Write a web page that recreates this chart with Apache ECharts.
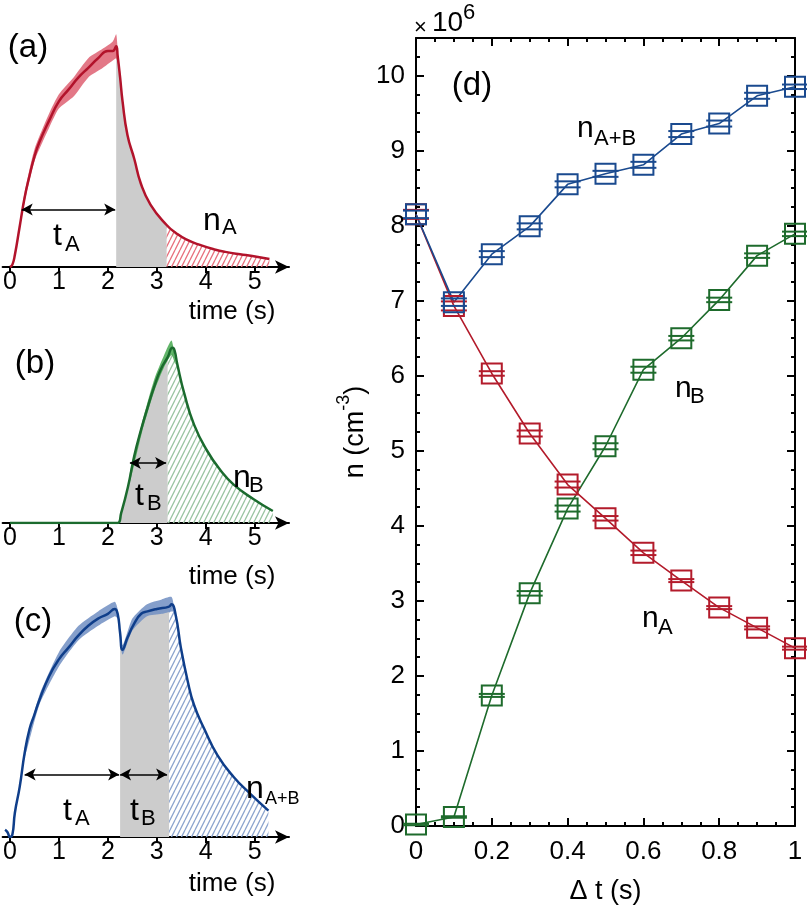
<!DOCTYPE html>
<html lang="en">
<head>
<meta charset="UTF-8">
<title>n vs delta t</title>
<script src="https://cdn.jsdelivr.net/npm/echarts@6/dist/echarts.min.js"></script>
<style>
html, body { margin: 0; padding: 0; background: #fff; }
#main { width: 807px; height: 910px; }
</style>
</head>
<body>
<div id="main"></div>
<script>
// ---- left panels: signal vs time (arb. units) ----
var timeTicks = [0, 1, 2, 3, 4, 5];

// (a) pulse A
var tA   = [0, 0.05, 0.1, 0.2, 0.3, 0.4, 0.5, 0.6, 0.8, 1.0, 1.2, 1.4, 1.6, 1.8, 2.0, 2.1, 2.17, 2.2, 2.25, 2.3, 2.4, 2.54, 2.67, 2.87, 3.2, 3.4, 3.6, 3.88, 4.2, 4.4, 4.7, 4.95, 5.3];
var sigA = [0, 0.01, 0.05, 0.17, 0.29, 0.38, 0.46, 0.52, 0.61, 0.69, 0.74, 0.79, 0.83, 0.87, 0.90, 0.90, 0.92, 0.88, 0.79, 0.69, 0.55, 0.45, 0.35, 0.26, 0.175, 0.14, 0.115, 0.092, 0.072, 0.063, 0.053, 0.046, 0.033];
var bandTA = [0.2, 0.3, 0.5, 0.8, 1.0, 1.3, 1.6, 1.9, 2.1, 2.17, 2.2, 2.25];
var bandLoA = [0.16, 0.27, 0.44, 0.58, 0.66, 0.71, 0.79, 0.83, 0.86, 0.87, 0.85, 0.79];
var bandHiA = [0.18, 0.31, 0.49, 0.64, 0.72, 0.79, 0.87, 0.91, 0.94, 0.97, 0.91, 0.79];
var edgesA = [2.17, 3.2, 5.3];        // grey from, hatch from, hatch to
var arrowsA = [[0.24, 2.15, 0.24]];   // t1, t2, level

// (b) pulse B
var tB   = [0, 2.2, 2.27, 2.41, 2.54, 2.68, 2.81, 2.95, 3.08, 3.22, 3.32, 3.36, 3.42, 3.56, 3.76, 4.03, 4.3, 4.57, 4.97, 5.37];
var sigB = [0, 0, 0.04, 0.15, 0.28, 0.39, 0.48, 0.57, 0.64, 0.69, 0.73, 0.72, 0.66, 0.54, 0.41, 0.30, 0.22, 0.16, 0.10, 0.05];
var bandTB = [2.45, 2.7, 2.95, 3.15, 3.3, 3.38];
var bandLoB = [0.17, 0.38, 0.55, 0.65, 0.70, 0.66];
var bandHiB = [0.21, 0.42, 0.60, 0.70, 0.76, 0.68];
var edgesB = [2.2, 3.22, 5.37];
var arrowsB = [[2.45, 3.19, 0.25]];

// (c) pulse A followed by pulse B
var tC   = [-0.1, -0.05, 0, 0.05, 0.1, 0.2, 0.3, 0.4, 0.5, 0.6, 0.8, 1.0, 1.2, 1.4, 1.6, 1.8, 2.0, 2.14, 2.2, 2.25, 2.3, 2.4, 2.54, 2.68, 2.81, 3.0, 3.25, 3.3, 3.39, 3.49, 3.63, 3.76, 3.97, 4.24, 4.57, 4.91, 5.28];
var sigC = [0.03, 0.02, 0, 0.01, 0.10, 0.21, 0.35, 0.45, 0.51, 0.57, 0.67, 0.74, 0.79, 0.84, 0.88, 0.91, 0.93, 0.95, 0.93, 0.85, 0.78, 0.83, 0.89, 0.93, 0.94, 0.95, 0.96, 0.97, 0.92, 0.79, 0.65, 0.55, 0.45, 0.34, 0.25, 0.18, 0.11];
var bandTC = [0.3, 0.6, 1.0, 1.4, 1.8, 2.14, 2.2, 2.3, 2.5, 2.8, 3.1, 3.3, 3.35];
var bandLoC = [0.33, 0.55, 0.71, 0.82, 0.88, 0.92, 0.91, 0.76, 0.86, 0.92, 0.93, 0.94, 0.94];
var bandHiC = [0.37, 0.59, 0.77, 0.88, 0.94, 0.98, 0.95, 0.80, 0.91, 0.97, 0.99, 1.00, 0.96];
var edgesC = [2.25, 3.25, 5.28];
var arrowsC = [[0.30, 2.23, 0.26], [2.25, 3.21, 0.26]];

// ---- right panel (d): n (x10^6 cm^-3) vs delta t ----
var dt   = [0, 0.1, 0.2, 0.3, 0.4, 0.5, 0.6, 0.7, 0.8, 0.9, 1.0];
var nAB  = [8.15, 6.98, 7.62, 7.99, 8.55, 8.69, 8.81, 9.22, 9.36, 9.73, 9.85];
var nA   = [8.15, 6.93, 6.03, 5.23, 4.55, 4.10, 3.64, 3.27, 2.91, 2.64, 2.37];
var nB   = [0.02, 0.12, 1.74, 3.10, 4.23, 5.06, 6.08, 6.50, 7.01, 7.60, 7.89];
var errAB = [0.05, 0.05, 0.04, 0.04, 0.04, 0.04, 0.04, 0.04, 0.04, 0.04, 0.03];
var errA  = [0.06, 0.06, 0.03, 0.04, 0.04, 0.03, 0.03, 0.02, 0.02, 0.02, 0.02];
var errB  = [0.01, 0.01, 0.02, 0.03, 0.04, 0.04, 0.04, 0.03, 0.03, 0.03, 0.03];

var FONT = '"Liberation Sans", Arial, sans-serif';
var RED = '#b2132b', GREEN = '#1b6b2e', BLUE = '#0f3e8a';

function pairs(t, v) {
	return t.map(function(x, i) { return [x, v[i]]; });
}
function seg(t, v, a, b) {
	return pairs(t, v).filter(function(p) { return p[0] >= a - 1e-9 && p[0] <= b + 1e-9; });
}
function hatch(color) {
	var w = 5, h = 10;
	var c = document.createElement('canvas');
	c.width = w; c.height = h;
	var ctx = c.getContext('2d');
	ctx.strokeStyle = color;
	ctx.lineWidth = 1.3;
	ctx.beginPath();
	for (var dx = -w; dx <= w; dx += w) {
		ctx.moveTo(dx, h);
		ctx.lineTo(dx + w, 0);
	}
	ctx.stroke();
	return c;
}

// series for one of the three time panels
function timePanel(idx, t, v, bt, lo, hi, edges, arrows, col, bandCol, hatchCol) {
	var ax = { xAxisIndex: idx, yAxisIndex: idx, silent: true, animation: false };
	var sm = { symbol: 'none', smooth: 0.5 };
	var band = pairs(bt, lo).map(function(p, i) { return [p[0], p[1], hi[i]]; });
	var out = [];
	out.push(Object.assign({
		type: 'line', data: seg(t, v, edges[0], edges[1]),
		lineStyle: { width: 0 }, areaStyle: { color: '#cccccc', opacity: 1 }, z: 1
	}, sm, ax));
	out.push(Object.assign({
		type: 'line', data: seg(t, v, edges[1], edges[2]),
		lineStyle: { width: 0 }, areaStyle: { color: { image: hatch(hatchCol), repeat: 'repeat' }, opacity: 1 }, z: 1
	}, sm, ax));
	out.push(Object.assign({
		type: 'custom', data: band, z: 2,
		renderItem: function(params, api) {
			if (params.dataIndex !== 0) return null;
			var pts = [];
			band.forEach(function(b) { pts.push(api.coord([b[0], b[2]])); });
			for (var i = band.length - 1; i >= 0; i--) pts.push(api.coord([band[i][0], band[i][1]]));
			return { type: 'polygon', shape: { points: pts, smooth: 0.2 }, style: { fill: bandCol, stroke: null } };
		}
	}, ax));
	out.push(Object.assign({
		type: 'line', data: pairs(t, v), z: 3,
		lineStyle: { color: col, width: 2.5 },
		markLine: {
			silent: true, symbol: ['arrow', 'arrow'], symbolSize: [9, 11],
			label: { show: false },
			lineStyle: { color: '#000', width: 1.6, type: 'solid' },
			data: arrows.map(function(a) { return [{ coord: [a[0], a[2]] }, { coord: [a[1], a[2]] }]; })
		}
	}, sm, ax));
	return out;
}

function markerSeries(data, err, col) {
	return {
		type: 'custom', xAxisIndex: 3, yAxisIndex: 3, data: pairs(dt, data), clip: false, z: 5,
		encode: { x: 0, y: 1 },
		renderItem: function(params, api) {
			var x = api.value(0), y = api.value(1), e = err[params.dataIndex];
			var c = api.coord([x, y]);
			var up = api.coord([x, y + e])[1], dn = api.coord([x, y - e])[1];
			return {
				type: 'group', children: [
					{ type: 'rect', shape: { x: c[0] - 10, y: c[1] - 10, width: 20, height: 20 }, style: { fill: 'none', stroke: col, lineWidth: 2 } },
					{ type: 'line', shape: { x1: c[0] - 13, y1: up, x2: c[0] + 13, y2: up }, style: { stroke: col, lineWidth: 2 } },
					{ type: 'line', shape: { x1: c[0] - 13, y1: dn, x2: c[0] + 13, y2: dn }, style: { stroke: col, lineWidth: 2 } }
				]
			};
		}
	};
}

function txt(x, y, s, size, align, valign) {
	return { type: 'text', x: x, y: y, z: 100, silent: true, style: { text: s, fontSize: size, fontFamily: FONT, fill: '#000', textAlign: align || 'left', textVerticalAlign: valign || 'bottom' } };
}
// label with subscript, x of main, x of sub, baseline of main and sub
function subLabel(xm, xs, base, sbase, main, sub, size, ssize) {
	return [txt(xm, base + 0.21 * size, main, size), txt(xs, sbase + 0.21 * ssize, sub, ssize)];
}

var leftGrids = [27, 283, 597].map(function(top) {
	return { left: 1, width: 288, top: top, height: 240 };
});

function leftX(i) {
	return {
		type: 'value', gridIndex: i, min: -0.15, max: 5.7,
		axisLine: { show: true, symbol: ['none', 'arrow'], symbolSize: [10, 14], lineStyle: { color: '#000', width: 2 } },
		axisTick: { show: true, customValues: timeTicks, length: 6, lineStyle: { color: '#000', width: 2 } },
		axisLabel: { customValues: timeTicks, color: '#000', fontSize: 25, fontFamily: FONT, margin: 3 },
		splitLine: { show: false }
	};
}
function leftY(i) {
	return { type: 'value', gridIndex: i, min: 0, max: 1, show: false, splitLine: { show: false } };
}

var frameLine = { show: true, onZero: false, lineStyle: { color: '#000', width: 2 } };
var tickIn = { show: true, inside: true, length: 8, lineStyle: { color: '#000', width: 2 } };
var minorIn = { show: true, splitNumber: 4, length: 4, lineStyle: { color: '#000', width: 2 } };

var option = {
	animation: false,
	backgroundColor: '#fff',
	grid: leftGrids.concat([{ left: 416, right: 12, top: 38, bottom: 82 }]),
	xAxis: [leftX(0), leftX(1), leftX(2),
		{
			type: 'value', gridIndex: 3, min: 0, max: 1, interval: 0.2, position: 'bottom',
			axisLine: frameLine, axisTick: tickIn, minorTick: minorIn,
			axisLabel: { color: '#000', fontSize: 26, fontFamily: FONT, margin: 13 },
			splitLine: { show: false },
			name: 'Δ t (s)', nameLocation: 'middle', nameGap: 52,
			nameTextStyle: { color: '#000', fontSize: 27, fontFamily: FONT }
		},
		{
			type: 'value', gridIndex: 3, min: 0, max: 1, interval: 0.2, position: 'top',
			axisLine: frameLine, axisTick: tickIn, minorTick: minorIn,
			axisLabel: { show: false }, splitLine: { show: false }
		}
	],
	yAxis: [leftY(0), leftY(1), leftY(2),
		{
			type: 'value', gridIndex: 3, min: 0, max: 10.5, interval: 1, position: 'left',
			axisLine: frameLine, axisTick: tickIn, minorTick: minorIn,
			axisLabel: {
				color: '#000', fontSize: 26, fontFamily: FONT, margin: 11,
				formatter: function(v) { return Math.abs(v - Math.round(v)) < 1e-6 ? String(Math.round(v)) : ''; }
			},
			splitLine: { show: false },
			name: '{a|n (cm}{s|-3}{a|)}', nameLocation: 'middle', nameGap: 47, nameRotate: 90,
			nameTextStyle: {
				rich: {
					a: { fontSize: 27, fontFamily: FONT, color: '#000', lineHeight: 34, verticalAlign: 'bottom' },
					s: { fontSize: 18, fontFamily: FONT, color: '#000', lineHeight: 34, verticalAlign: 'top' }
				}
			}
		},
		{
			type: 'value', gridIndex: 3, min: 0, max: 10.5, interval: 1, position: 'right',
			axisLine: frameLine, axisTick: tickIn, minorTick: minorIn,
			axisLabel: { show: false }, splitLine: { show: false }
		}
	],
	series: []
		.concat(timePanel(0, tA, sigA, bandTA, bandLoA, bandHiA, edgesA, arrowsA, RED, 'rgba(222,96,114,0.85)', '#e8727f'))
		.concat(timePanel(1, tB, sigB, bandTB, bandLoB, bandHiB, edgesB, arrowsB, GREEN, 'rgba(70,168,80,0.85)', '#9cc5a3'))
		.concat(timePanel(2, tC, sigC, bandTC, bandLoC, bandHiC, edgesC, arrowsC, BLUE, 'rgba(112,142,194,0.85)', '#8ea6cf'))
		.concat([
			{ type: 'line', xAxisIndex: 3, yAxisIndex: 3, data: pairs(dt, nB), symbol: 'none', lineStyle: { color: '#1e6b2c', width: 1.6 }, z: 4 },
			{ type: 'line', xAxisIndex: 3, yAxisIndex: 3, data: pairs(dt, nA), symbol: 'none', lineStyle: { color: '#b31b2b', width: 1.6 }, z: 4 },
			{ type: 'line', xAxisIndex: 3, yAxisIndex: 3, data: pairs(dt, nAB), symbol: 'none', lineStyle: { color: '#1a4a8f', width: 1.6 }, z: 4 },
			markerSeries(nB, errB, '#1e6b2c'),
			markerSeries(nA, errA, '#b31b2b'),
			markerSeries(nAB, errAB, '#1a4a8f')
		]),
	graphic: { elements: [] }
};

var g = option.graphic.elements;
// panel letters
g.push(txt(28, 48, '(a)', 33, 'center', 'middle'));
g.push(txt(35, 364, '(b)', 33, 'center', 'middle'));
g.push(txt(33, 622, '(c)', 33, 'center', 'middle'));
g.push(txt(472, 86, '(d)', 33, 'center', 'middle'));
// time axis names
g.push(txt(232, 312, 'time (s)', 26, 'center', 'middle'));
g.push(txt(232, 577, 'time (s)', 26, 'center', 'middle'));
g.push(txt(232, 884, 'time (s)', 26, 'center', 'middle'));
// annotations
Array.prototype.push.apply(g, subLabel(53, 65, 245, 251, 't', 'A', 32, 22));
Array.prototype.push.apply(g, subLabel(203, 222, 230, 234, 'n', 'A', 32, 22));
Array.prototype.push.apply(g, subLabel(135, 147, 505, 510, 't', 'B', 32, 22));
Array.prototype.push.apply(g, subLabel(233, 249, 487, 492, 'n', 'B', 32, 22));
Array.prototype.push.apply(g, subLabel(63, 75, 820, 825, 't', 'A', 32, 22));
Array.prototype.push.apply(g, subLabel(130, 141, 820, 825, 't', 'B', 32, 22));
Array.prototype.push.apply(g, subLabel(246, 265, 798, 804, 'n', 'A+B', 32, 18));
Array.prototype.push.apply(g, subLabel(577, 594, 137, 145, 'n', 'A+B', 30, 22));
Array.prototype.push.apply(g, subLabel(675, 690, 397, 403, 'n', 'B', 30, 22));
Array.prototype.push.apply(g, subLabel(642, 658, 627, 634, 'n', 'A', 30, 22));
// x10^6 multiplier
g.push(txt(414, 28, '×', 22, 'left', 'middle'));
g.push(txt(432, 23, '10', 28, 'left', 'middle'));
g.push(txt(463, 13, '6', 22, 'left', 'middle'));

var myChart = echarts.init(document.getElementById('main'));
myChart.setOption(option);
</script>
</body>
</html>
